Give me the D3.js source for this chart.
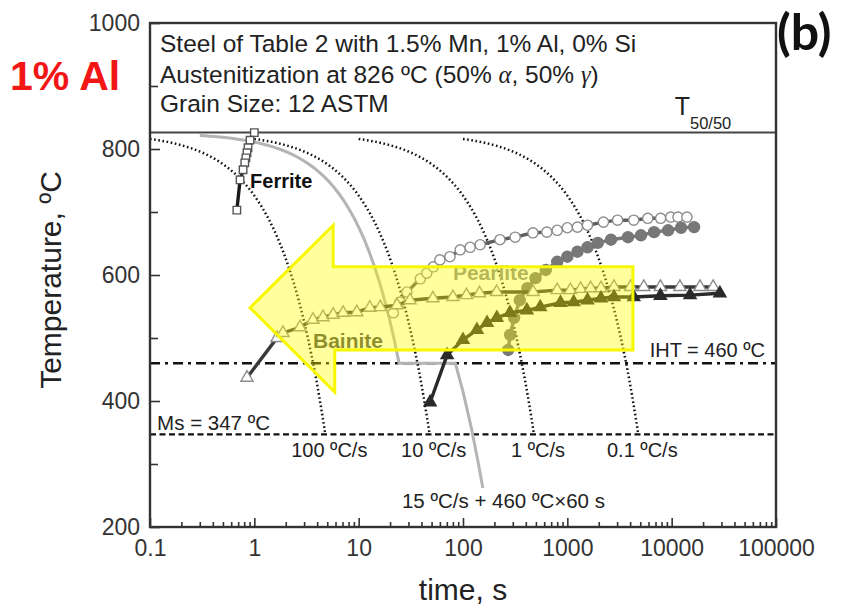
<!DOCTYPE html>
<html>
<head>
<meta charset="utf-8">
<script src="https://cdn.jsdelivr.net/npm/d3@7"></script>
<style>
  body { margin: 0; background: #fff; }
  svg { display: block; font-family: "Liberation Sans", Arial, sans-serif; }
</style>
</head>
<body>
<svg id="chart" width="843" height="613"></svg>
<script>
// CCT diagram, time in s and temperature in ºC
const xTicks = [0.1, 1, 10, 100, 1000, 10000, 100000];
const yTicks = [200, 400, 600, 800, 1000];
const yMinorTicks = [300, 500, 700, 900];

const T5050 = 826;
const IHT = 460;
const Ms = 347;
const coolRates = [100, 10, 1, 0.1];
const coolLabels = ["100 ºC/s", "10 ºC/s", "1 ºC/s", "0.1 ºC/s"];

// interrupted path: 15 ºC/s down to IHT, 60 s hold, then the measured tail
const stepRate = 15, stepStart = 0.3, holdTime = 60;
const stepTail = [[100, 415], [120, 358], [140, 302], [155, 262]];

const ferrite = [[1.0, 826], [0.91, 814], [0.87, 802], [0.85, 794], [0.83, 786],
  [0.81, 778], [0.78, 767], [0.73, 751], [0.68, 703]];

const pearliteStart = [[21.5, 540], [24.9, 557], [29, 573], [39, 594], [45, 603],
  [52, 613], [60, 624], [75, 629], [94, 640], [117, 644], [146, 648], [226, 656],
  [316, 660], [468, 667], [636, 668], [800, 671], [1000, 675], [1250, 676],
  [1560, 679], [2220, 684], [3030, 687], [4330, 687], [5900, 690], [7840, 690],
  [9800, 692], [11500, 692], [14000, 692]];

const pearliteFinish = [[271, 481], [283, 505], [309, 532], [350, 560], [414, 579],
  [495, 595], [622, 608], [800, 621], [1000, 629], [1250, 637], [1560, 644],
  [1960, 651], [2620, 656], [3810, 660], [5080, 663], [6780, 668], [9240, 671],
  [12300, 675], [16400, 676]];

const bainiteStart = [[0.85, 437], [1.65, 500], [1.88, 508], [2.74, 517], [3.65, 529],
  [4.55, 533], [5.7, 537], [7.1, 540], [9.6, 541], [12.8, 548], [16.1, 549],
  [23.3, 552], [31, 560], [51.5, 563], [80, 565], [108, 568], [144, 571], [210, 573],
  [470, 573], [800, 576], [1070, 576], [1340, 578], [1670, 579], [2100, 579],
  [2800, 581], [4050, 581], [5400, 581], [7800, 581], [12000, 581], [18700, 581],
  [25000, 581]];

const bainiteFinish = [[48.4, 398], [70.5, 473], [100, 497], [136, 513], [170, 524],
  [211, 532], [282, 540], [410, 544], [550, 549], [860, 556], [1150, 557],
  [1560, 560], [2100, 563], [2800, 565], [4330, 565], [7800, 567], [15000, 568],
  [29000, 571]];

// highlight arrow outline (time, temperature)
const arrow = [[0.91, 548], [5.7, 679], [5.7, 613], [4250, 613], [4250, 481],
  [5.9, 481], [5.9, 414]];

const svg = d3.select("#chart");
const x = d3.scaleLog().domain([0.1, 100000]).range([150, 776]);
const y = d3.scaleLinear().domain([200, 1000]).range([527, 23]);
const [x0, x1] = x.range();
const [yb, yt] = y.range();

const line = d3.line().x(d => x(d[0])).y(d => y(d[1]));

// cooling path at a constant rate from the austenitization temperature down to Ms
function coolPath(rate) {
  const tEnd = (T5050 - Ms) / rate;
  const tBeg = 10 / rate;
  const n = 60;
  return d3.range(n + 1).map(i => {
    const t = tBeg * Math.pow(tEnd / tBeg, i / n);
    return [t, T5050 - rate * t];
  });
}

// ---- axes ----
const minorX = [];
xTicks.slice(0, -1).forEach(d => {
  for (let k = 2; k <= 9; k++) minorX.push(d * k);
});

svg.append("g").attr("transform", `translate(0,${yb})`)
  .call(d3.axisBottom(x).tickValues(xTicks).tickFormat(d => String(d))
    .tickSize(-9).tickPadding(13));
svg.append("g").attr("transform", `translate(0,${yb})`)
  .call(d3.axisBottom(x).tickValues(minorX).tickFormat("").tickSize(-5));

svg.append("g").attr("transform", `translate(${x0},0)`)
  .call(d3.axisLeft(y).tickValues(yTicks).tickFormat(d3.format("d"))
    .tickSize(-10).tickPadding(10));
svg.append("g").attr("transform", `translate(${x0},0)`)
  .call(d3.axisLeft(y).tickValues(yMinorTicks).tickFormat("").tickSize(-8));

svg.selectAll(".domain").remove();
svg.selectAll(".tick line").attr("stroke", "#333").attr("stroke-width", 1.6);
svg.selectAll(".tick text").attr("font-size", 23).attr("fill", "#333")
  .attr("font-family", "Liberation Sans, Arial, sans-serif");

// axis titles
svg.append("text").attr("x", (x0 + x1) / 2).attr("y", 600)
  .attr("text-anchor", "middle").attr("font-size", 30).attr("fill", "#222")
  .text("time, s");
svg.append("text").attr("transform", `translate(61,${(yb + yt) / 2 + 5}) rotate(-90)`)
  .attr("text-anchor", "middle").attr("font-size", 30).attr("fill", "#222")
  .text("Temperature, ºC");

// ---- reference lines ----
const refs = svg.append("g");
refs.append("line").attr("x1", x0).attr("x2", x1).attr("y1", y(T5050)).attr("y2", y(T5050))
  .attr("stroke", "#444").attr("stroke-width", 2);
refs.append("line").attr("x1", x0).attr("x2", x1).attr("y1", y(IHT)).attr("y2", y(IHT))
  .attr("stroke", "#111").attr("stroke-width", 2.6).attr("stroke-dasharray", "10,5,3,5");
refs.append("line").attr("x1", x0).attr("x2", x1).attr("y1", y(Ms)).attr("y2", y(Ms))
  .attr("stroke", "#111").attr("stroke-width", 2.2).attr("stroke-dasharray", "6,3.5");

// interrupted cooling path (gray)
const tHold = (T5050 - IHT) / stepRate;
const stepPath = d3.range(41).map(i => {
  const t = stepStart * Math.pow(tHold / stepStart, i / 40);
  return [t, T5050 - stepRate * t];
}).concat([[tHold + holdTime, IHT]], stepTail);
svg.append("path").attr("d", line(stepPath)).attr("fill", "none")
  .attr("stroke", "#b4b4b4").attr("stroke-width", 3);

// constant-rate cooling curves
svg.append("g").selectAll("path").data(coolRates).join("path")
  .attr("d", d => line(coolPath(d)))
  .attr("fill", "none").attr("stroke", "#111").attr("stroke-width", 2.5)
  .attr("stroke-dasharray", "1.6,2.6");

svg.append("g").selectAll("text").data(coolRates).join("text")
  .attr("x", d => x((T5050 - Ms) / d) + 4).attr("y", y(311))
  .attr("text-anchor", "middle").attr("font-size", 20).attr("fill", "#222")
  .text((d, i) => coolLabels[i]);

// ---- transformation start / finish data ----
const series = [
  { data: pearliteStart, line: "#5e5e5e", shape: d3.symbolCircle, size: 82, fill: "#fff", stroke: "#8c8c8c" },
  { data: pearliteFinish, line: "#777", shape: d3.symbolCircle, size: 95, fill: "#777", stroke: "#777" },
  { data: bainiteStart, line: "#3a3a3a", shape: d3.symbolTriangle, size: 64, fill: "#fff", stroke: "#8c8c8c" },
  { data: bainiteFinish, line: "#2a2a2a", shape: d3.symbolTriangle, size: 64, fill: "#2a2a2a", stroke: "#2a2a2a" },
  { data: ferrite, line: "#1a1a1a", shape: d3.symbolSquare, size: 56, fill: "#fff", stroke: "#555" }
];

series.forEach(s => {
  const g = svg.append("g");
  g.append("path").attr("d", line(s.data)).attr("fill", "none")
    .attr("stroke", s.line).attr("stroke-width", 3.4);
  g.selectAll("path.pt").data(s.data).join("path").attr("class", "pt")
    .attr("transform", d => `translate(${x(d[0])},${y(d[1])})`)
    .attr("d", d3.symbol().type(s.shape).size(s.size))
    .attr("fill", s.fill).attr("stroke", s.stroke).attr("stroke-width", 1.4);
});

// phase labels
svg.append("text").attr("x", x(0.91)).attr("y", y(738))
  .attr("font-size", 20).attr("font-weight", "bold").attr("fill", "#111").text("Ferrite");
svg.append("text").attr("x", x(3.65)).attr("y", y(484))
  .attr("font-size", 21).attr("font-weight", "bold").attr("fill", "#4a4a4a").text("Bainite");
svg.append("text").attr("x", x(80)).attr("y", y(592))
  .attr("font-size", 21).attr("font-weight", "bold").attr("fill", "#8c8c8c").text("Pearlite");

// highlight arrow
svg.append("path").attr("d", line(arrow) + "Z")
  .attr("fill", "#ffff00").attr("fill-opacity", 0.38)
  .attr("stroke", "#f7f700").attr("stroke-width", 3);

// line annotations
svg.append("text").attr("x", x(78500)).attr("y", y(470))
  .attr("text-anchor", "end").attr("font-size", 20).attr("fill", "#222").text("IHT = 460 ºC");
svg.append("text").attr("x", x(0.117)).attr("y", y(354))
  .attr("font-size", 20.5).attr("fill", "#222").text("Ms = 347 ºC");
svg.append("text").attr("x", x(26)).attr("y", y(230))
  .attr("font-size", 20.5).attr("fill", "#222").text("15 ºC/s + 460 ºC×60 s");

const tLab = svg.append("text").attr("x", x(10700)).attr("y", y(854))
  .attr("font-size", 25).attr("fill", "#222");
tLab.append("tspan").text("T");
tLab.append("tspan").attr("dy", 14).attr("font-size", 16.5).text("50/50");

// description block at the top of the frame
const info = svg.append("g").attr("font-size", 24.5).attr("fill", "#222");
info.append("text").attr("x", x0 + 10).attr("y", yt + 29)
  .text("Steel of Table 2 with 1.5% Mn, 1% Al, 0% Si");
const aus = info.append("text").attr("x", x0 + 10).attr("y", yt + 60);
aus.append("tspan").text("Austenitization at 826 ºC (50% ");
aus.append("tspan").attr("font-family", "Liberation Serif, serif").attr("font-style", "italic").text("α");
aus.append("tspan").text(", 50% ");
aus.append("tspan").attr("font-family", "Liberation Serif, serif").attr("font-style", "italic").text("γ");
aus.append("tspan").text(")");
info.append("text").attr("x", x0 + 10).attr("y", yt + 89).text("Grain Size: 12 ASTM");

// plot frame
svg.append("rect").attr("x", x0).attr("y", yt).attr("width", x1 - x0).attr("height", yb - yt)
  .attr("fill", "none").attr("stroke", "#333").attr("stroke-width", 2.4);

// panel tags
svg.append("text").attr("x", 10).attr("y", 90).attr("font-size", 41)
  .attr("font-weight", "bold").attr("fill", "#f21616").text("1% Al");
svg.append("text").attr("x", 777).attr("y", 50).attr("font-size", 50)
  .attr("font-family", "Lato, Liberation Sans, sans-serif")
  .attr("font-weight", "bold").attr("fill", "#111").text("(b)");
</script>
</body>
</html>
